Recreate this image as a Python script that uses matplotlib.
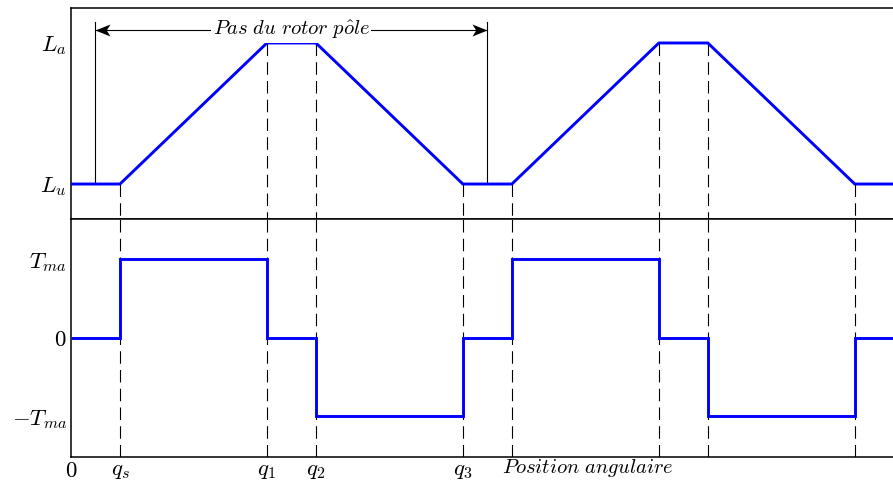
import numpy as np
import matplotlib
matplotlib.use('Agg')
import matplotlib.pyplot as plt
from matplotlib.path import Path

plt.rcParams['mathtext.fontset'] = 'cm'
plt.rcParams['font.family'] = 'serif'
plt.rcParams['font.serif'] = ['cmr10', 'DejaVu Serif']
plt.rcParams['axes.formatter.use_mathtext'] = True
plt.rcParams['lines.scale_dashes'] = False

# angular positions (one unit = overlap width)
theta = [0, 1, 4, 5, 8, 9, 12, 13, 16, 16.8]
# inductance profile: 0 -> L_u, 1 -> L_a
induct = [0, 0, 1, 1, 0, 0, 1, 1, 0, 0]
# torque steps between successive positions
torque_edges = [0, 1, 4, 5, 8, 9, 12, 13, 16, 16.8]
torque_vals = [0, 1, 0, -1, 0, 1, 0, -1, 0]

# dashed markers: position and level in the inductance panel
mark_pos = [1, 4, 5, 8, 9, 12, 13, 16]
mark_lvl = [0, 1, 1, 0, 0, 1, 1, 0]

xtick_pos = [0, 1, 4, 5, 8]
xtick_lab = ['$0$', '$q_s$', '$q_1$', '$q_2$', '$q_3$']

pitch = (0.5, 8.5)

blue = '#0000ff'
dash = dict(color='black', lw=0.8, dashes=(9, 4.5), zorder=1)


def stealth(direction):
    # arrow head with its tip at the origin
    v = [(0, 0), (-1, 0.4), (-0.75, 0), (-1, -0.4), (0, 0)]
    v = [(direction * x, y) for x, y in v]
    return Path(v, [Path.MOVETO] + [Path.LINETO] * 3 + [Path.CLOSEPOLY])


fig = plt.figure(figsize=(8.93, 4.84), dpi=100)
left = 71 / 893
ax1 = fig.add_axes([left, (484 - 219) / 484, 1 - left, (219 - 8) / 484])
ax2 = fig.add_axes([left, (484 - 457) / 484, 1 - left, (457 - 219) / 484])

for ax in (ax1, ax2):
    ax.set_xlim(0, 16.78)
    ax.spines['right'].set_visible(False)
    for s in ('left', 'top', 'bottom'):
        ax.spines[s].set_linewidth(1.1)
    ax.tick_params(length=0, labelsize=16.5, pad=3)

# inductance
ax1.set_ylim(-0.248, 1.248)
ax1.plot(theta, induct, color=blue, lw=2.1, solid_joinstyle='miter', zorder=3)
ax1.set_xticks([])
ax1.set_yticks([0, 1])
ax1.set_yticklabels(['$L_u$', '$L_a$'])
for p, l in zip(mark_pos, mark_lvl):
    ax1.plot([p, p], [l, -0.248], **dash)

# rotor pitch annotation
ya = 1.092
for p in pitch:
    ax1.plot([p, p], [0, 1.15], color='black', lw=0.8, zorder=1)
ax1.plot(pitch, [ya, ya], color='black', lw=0.8)
ax1.plot(pitch[0], ya, marker=stealth(-1), ms=21.6, color='black', mew=0)
ax1.plot(pitch[1], ya, marker=stealth(1), ms=21.6, color='black', mew=0)
ax1.text(sum(pitch) / 2, ya, r'$\mathit{Pas\ du\ rotor\ p\hat{o}le}$',
         ha='center', va='center', fontsize=14.8, zorder=4,
         bbox=dict(fc='white', ec='none', pad=1.0))

# torque
ax2.set_ylim(-1.515, 1.51)
ax2.stairs(torque_vals, torque_edges, color=blue, lw=2.1, baseline=None, zorder=3)
ax2.set_yticks([-1, 0, 1])
ax2.set_yticklabels(['$-T_{ma}$', '$0$', '$T_{ma}$'])
ax2.set_xticks(xtick_pos)
ax2.set_xticklabels(xtick_lab)
for p in mark_pos:
    ax2.axvline(p, **dash)
ax2.text(8.8, -1.66, r'$\mathit{Position\ angulaire}$', ha='left', va='center',
         fontsize=14.8)

fig.savefig('out.png', dpi=100)
